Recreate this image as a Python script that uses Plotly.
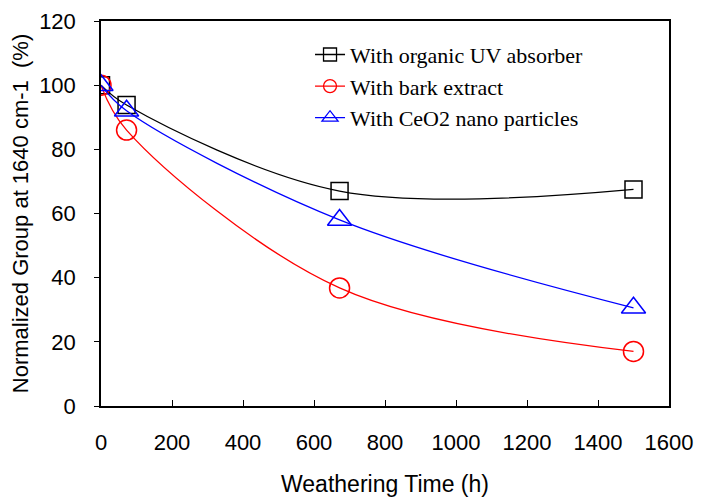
import plotly.graph_objects as go

time_h = [0, 72, 672, 1500]
organic_uv = [100, 93.8, 67, 67.5]
bark_extract = [100, 86, 36.8, 17]
ceo2_nano = [100, 92, 58, 30.6]

names = ["With organic UV absorber", "With bark extract", "With CeO2 nano particles"]
colors = ["black", "red", "blue"]
symbols = ["square-open", "circle-open", "triangle-up-open"]
sizes = [17, 20, 21]
legend_sizes = [13, 13, 14]

fig = go.Figure()
for y, n, c, s, sz in zip([organic_uv, bark_extract, ceo2_nano], names, colors, symbols, sizes):
    fig.add_trace(go.Scatter(
        x=time_h, y=y, name=n, mode="lines+markers", showlegend=False,
        line=dict(color=c, width=1.3, shape="spline", smoothing=1),
        marker=dict(symbol=s, size=sz, color=c, line=dict(width=1.5, color=c)),
    ))
for i, (n, c, s, lsz) in enumerate(zip(names, colors, symbols, legend_sizes)):
    fig.add_trace(go.Scatter(
        x=[None], y=[None], name=n, mode="lines+markers",
        line=dict(color=c, width=1.3),
        marker=dict(symbol=s, size=lsz, color=c, line=dict(width=1.3, color=c)),
    ))

fig.update_layout(
    width=694, height=491,
    margin=dict(l=93, r=33, t=13, b=93),
    plot_bgcolor="white", paper_bgcolor="white",
    font=dict(family="Liberation Sans, Arial", size=22, color="black"),
    legend=dict(x=0.368, y=0.967, xanchor="left", yanchor="top",
                font=dict(family="Liberation Serif, Times New Roman", size=22),
                bgcolor="rgba(0,0,0,0)", tracegroupgap=0),
    showlegend=True,
)
fig.update_xaxes(range=[0, 1600], tick0=0, dtick=200, showgrid=False, zeroline=False,
                 showline=True, linecolor="black", linewidth=1.5, mirror=True,
                 ticks="inside", ticklen=6, tickcolor="black", automargin=False,
                 ticklabelstandoff=16,
                 title=dict(text="Weathering Time (h)", standoff=22, font=dict(size=23)),
                 tickfont=dict(size=22))
fig.update_yaxes(range=[0, 120], tick0=0, dtick=20, showgrid=False, zeroline=False,
                 showline=True, linecolor="black", linewidth=1.5, mirror=True,
                 ticks="outside", ticklen=5, tickcolor="black", automargin=False,
                 ticklabelstandoff=14,
                 title=dict(text="Normalized Group at 1640 cm-1  (%)", standoff=10, font=dict(size=22)),
                 tickfont=dict(size=22))

fig.write_html("out.html")
